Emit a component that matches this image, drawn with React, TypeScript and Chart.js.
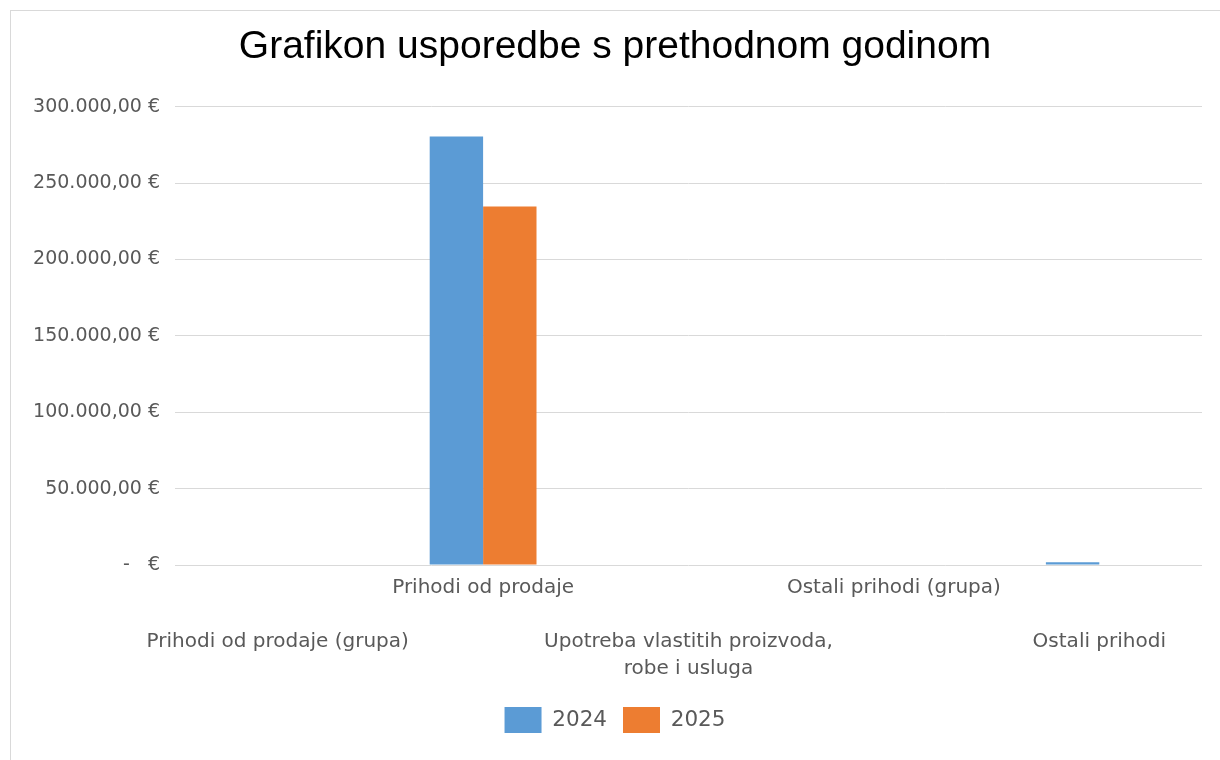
import React, { useEffect, useRef } from "react";
import { Chart, registerables } from "chart.js";

Chart.register(...registerables);

const TITLE = "Grafikon usporedbe s prethodnom godinom";
const categories = [
  "Prihodi od prodaje (grupa)",
  "Prihodi od prodaje",
  "Upotreba vlastitih proizvoda, robe i usluga",
  "Ostali prihodi (grupa)",
  "Ostali prihodi",
];
const categoryLines: string[][] = [
  ["Prihodi od prodaje (grupa)"],
  ["Prihodi od prodaje"],
  ["Upotreba vlastitih proizvoda,", "robe i usluga"],
  ["Ostali prihodi (grupa)"],
  ["Ostali prihodi"],
];
const seriesNames = ["2024", "2025"];
const values2024 = [0, 280500, 0, 0, 1800];
const values2025 = [0, 234700, 0, 0, 0];
const yTicks = [0, 50000, 100000, 150000, 200000, 250000, 300000];

const fmt = (v: number) => {
  if (v === 0) return "-   €";
  const s = Math.round(v).toString().replace(/\B(?=(\d{3})+(?!\d))/g, ".");
  return s + ",00 €";
};

export default function App() {
  const ref = useRef<HTMLCanvasElement | null>(null);
  useEffect(() => {
    document.body.style.margin = "0";
    const ctx = ref.current!;
    const chart = new Chart(ctx, {
      type: "bar",
      data: {
        labels: categories,
        datasets: [
          { label: seriesNames[0], data: values2024, backgroundColor: "#5b9bd5", borderWidth: 0 },
          { label: seriesNames[1], data: values2025, backgroundColor: "#ed7d31", borderWidth: 0 },
        ],
      },
      options: {
        animation: false,
        responsive: false,
        devicePixelRatio: 1,
        layout: { padding: { left: 28, right: 18, top: 10, bottom: 17 } },
        datasets: { bar: { categoryPercentage: 0.52, barPercentage: 1 } },
        plugins: {
          title: {
            display: true,
            text: TITLE,
            color: "#000000",
            font: { family: "Liberation Sans", size: 39, weight: "normal" },
            padding: { top: 14, bottom: 36 },
          },
          legend: {
            position: "bottom",
            labels: {
              boxWidth: 37,
              boxHeight: 26,
              color: "#595959",
              font: { family: "DejaVu Sans", size: 21.5 },
              padding: 16,
            },
          },
          tooltip: { enabled: false },
        },
        scales: {
          x: {
            grid: { display: false, drawTicks: false },
            border: { display: false },
            ticks: {
              autoSkip: false,
              maxRotation: 0,
              minRotation: 0,
              padding: 9.5,
              color: "#595959",
              font: { family: "DejaVu Sans", size: 20, lineHeight: "27px" },
              callback: (_v: any, i: number) =>
                i % 2 === 0 ? ["", "", ...categoryLines[i]] : categoryLines[i],
            },
            afterFit: (s: any) => {
              s.height = 126;
            },
          },
          y: {
            min: 0,
            max: 300000,
            afterBuildTicks: (s: any) => {
              s.ticks = yTicks.map((v) => ({ value: v }));
            },
            grid: { color: "#d9d9d9", drawTicks: false, lineWidth: 1 },
            border: { display: false },
            ticks: {
              padding: 15,
              color: "#595959",
              font: { family: "DejaVu Sans", size: 19 },
              callback: (v: any) => fmt(Number(v)),
            },
            afterFit: (s: any) => {
              s.width = 147;
            },
          },
        },
      },
    });
    return () => chart.destroy();
  }, []);
  return (
    <div style={{ position: "fixed", left: 0, top: 0, width: 1220, height: 760, overflow: "hidden", background: "#fff" }}>
      <div
        style={{
          position: "absolute",
          left: 10,
          top: 10,
          width: 1220,
          height: 760,
          border: "1px solid #d9d9d9",
          boxSizing: "border-box",
        }}
      />
      <canvas ref={ref} width={1220} height={760} style={{ position: "absolute", left: 0, top: 0 }} />
    </div>
  );
}
